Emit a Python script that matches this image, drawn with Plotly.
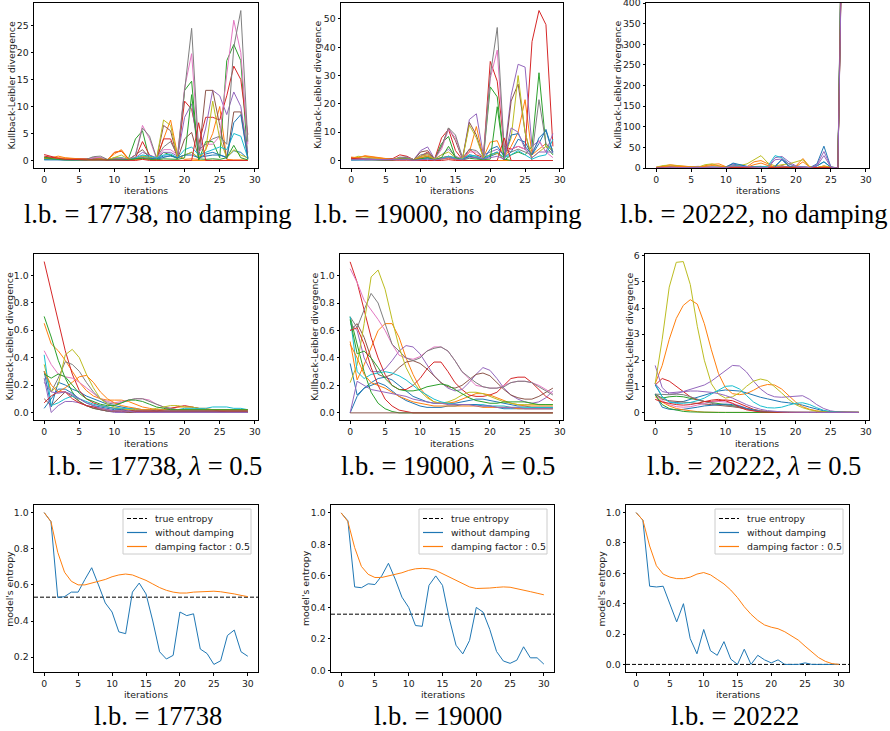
import plotly.graph_objects as go
from plotly.subplots import make_subplots

# ---------------- DATA ----------------
iters_kl = list(range(30))
iters_ent = list(range(31))
tick_x = [0, 5, 10, 15, 20, 25, 30]

tab10 = ["#1f77b4", "#ff7f0e", "#2ca02c", "#d62728", "#9467bd",
         "#8c564b", "#e377c2", "#7f7f7f", "#bcbd22", "#17becf"]

kl_17738_nodamp = [
    [0.3,0.2,0.2,0.1,0.1,0.1,0.1,0.2,0.3,0.1, 0.3,0.5,0.2,0.3,0.8,0.6,0.2,0.5,0.9,0.5, 1.0,1.5,0.4,1.2,1.5,1.0,0.6,1.8,1.5,0.3],
    [0.5,0.5,0.8,0.5,0.4,0.3,0.2,0.3,0.3,0.1, 1.2,2.0,0.3,0.2,0.5,0.3,0.1,4.0,7.5,1.0, 0.2,0.3,0.2,2.0,5.0,10.0,0.2,0.1,0.1,0.1],
    [0.6,0.4,0.3,0.2,0.2,0.1,0.2,0.5,0.5,0.1, 0.5,0.4,0.3,4.0,5.5,0.2,0.1,1.5,1.0,0.3, 13.0,14.7,0.0,3.5,3.5,0.5,18.5,21.5,18.5,0.2],
    [1.1,0.7,0.4,0.3,0.3,0.2,0.2,0.3,0.4,0.1, 1.5,1.7,0.3,0.5,3.5,1.0,0.3,4.0,4.0,0.5, 11.0,9.5,3.0,8.0,8.0,7.5,12.0,17.5,15.0,4.8],
    [0.2,0.2,0.2,0.1,0.1,0.1,0.1,0.4,0.5,0.1, 0.3,0.3,0.2,0.5,1.5,1.0,0.5,1.5,1.5,0.8, 8.0,10.5,1.0,6.0,13.0,12.0,8.5,12.7,10.0,1.5],
    [0.3,0.3,0.2,0.2,0.1,0.1,0.1,0.2,0.3,0.1, 0.2,0.3,0.1,1.0,2.0,0.5,0.2,6.5,5.5,0.3, 4.0,5.2,0.5,13.0,13.0,6.5,0.3,9.0,9.0,0.5],
    [0.4,0.3,0.3,0.2,0.2,0.1,0.1,0.5,0.6,0.1, 0.3,0.4,0.2,1.0,6.5,4.0,0.3,2.0,2.0,1.0, 13.5,19.8,1.5,3.0,3.0,4.5,16.0,26.0,20.0,3.0],
    [0.2,0.2,0.2,0.2,0.1,0.1,0.2,0.7,0.8,0.2, 0.3,0.3,0.2,1.0,6.0,4.5,0.5,2.5,3.5,1.0, 13.0,24.5,2.0,3.0,4.0,4.5,3.0,21.0,27.8,3.5],
    [0.3,0.3,0.4,0.3,0.2,0.1,0.1,0.2,0.3,0.1, 0.5,1.0,0.2,0.3,0.8,0.5,0.3,7.5,6.5,0.5, 1.0,1.5,0.5,2.0,11.0,4.0,0.5,2.0,1.0,0.5],
    [0.2,0.2,0.1,0.1,0.1,0.1,0.1,0.2,0.2,0.1, 0.2,0.2,0.1,0.5,1.0,0.8,0.5,1.0,1.2,0.5, 2.0,2.5,1.0,1.5,2.0,2.5,2.0,5.0,4.5,0.5],
    [0.1,0.1,0.1,0.1,0.1,0.1,0.1,0.1,0.1,0.1, 0.1,0.2,0.1,0.3,0.5,0.4,0.3,0.8,0.8,0.5, 1.0,1.0,0.5,0.8,1.0,1.0,0.5,7.0,8.5,0.3],
    [0.4,0.3,0.5,0.4,0.3,0.2,0.1,0.1,0.2,0.1, 1.5,1.8,0.2,0.1,0.3,0.2,0.0,0.0,0.0,0.0, 0.0,0.0,0.0,0.0,0.0,0.0,0.0,0.0,0.0,0.0],
    [0.5,0.3,0.2,0.1,0.1,0.1,0.1,0.2,0.2,0.1, 0.2,0.2,0.1,0.3,0.4,0.2,0.1,0.3,0.3,0.2, 0.5,12.2,0.3,0.2,0.3,0.2,0.5,2.8,0.5,0.1],
    [0.8,0.6,0.3,0.2,0.2,0.1,0.1,0.1,0.1,0.0, 0.0,0.1,0.0,0.0,0.2,0.0,0.0,0.0,0.0,0.0, 0.0,0.0,7.0,0.0,0.0,0.0,0.0,0.0,0.0,0.0],
]

kl_19000_nodamp = [
    [0.3,0.3,0.5,0.4,0.3,0.2,0.2,0.4,0.5,0.2, 0.5,1.0,0.3,0.8,1.5,1.0,0.5,2.0,1.5,0.5, 1.5,2.5,1.0,3.0,7.5,6.5,2.0,6.0,11.0,3.0],
    [0.8,1.0,1.7,1.3,1.0,0.7,0.5,0.6,0.8,0.3, 1.5,2.5,0.5,1.0,1.5,0.5,0.2,3.0,12.0,1.0, 6.5,7.0,1.0,5.0,10.0,21.5,2.0,4.0,6.0,3.0],
    [0.5,0.5,0.6,0.4,0.3,0.2,0.3,1.0,1.2,0.3, 1.0,1.5,0.5,6.0,8.5,1.0,0.2,1.5,1.0,0.3, 26.0,22.5,0.0,2.0,3.0,2.0,5.0,31.0,5.0,2.0],
    [1.0,0.8,0.6,0.5,0.6,0.5,0.7,2.0,1.5,0.3, 1.5,3.0,0.5,8.0,11.0,3.5,0.3,4.0,2.0,1.0, 35.0,28.0,5.0,4.0,5.0,4.0,42.0,53.0,48.0,5.0],
    [0.5,0.6,0.5,0.4,0.3,0.3,0.4,1.0,1.2,0.3, 3.5,4.8,0.5,2.0,4.0,1.5,0.5,14.5,16.5,2.0, 3.0,4.0,2.0,23.0,34.0,33.0,5.0,7.0,3.0,9.5],
    [0.3,0.4,0.5,0.4,0.3,0.2,0.3,0.8,1.0,0.2, 3.0,3.5,0.5,5.0,11.5,7.0,0.5,13.5,9.0,1.0, 2.0,3.0,0.0,21.0,27.0,10.0,0.0,0.0,0.0,0.0],
    [0.5,0.5,0.6,0.5,0.4,0.3,0.3,1.0,1.0,0.3, 1.5,2.0,0.5,4.0,11.0,8.0,1.0,3.0,3.0,1.0, 29.0,39.0,3.0,4.0,5.0,4.0,3.0,7.0,3.0,1.0],
    [0.4,0.5,0.6,0.5,0.4,0.3,0.3,1.2,1.0,0.3, 2.0,2.5,0.5,5.0,11.5,9.0,1.0,4.0,3.5,1.0, 30.0,47.0,4.0,3.0,4.0,3.0,2.0,21.5,6.0,3.0],
    [0.6,1.5,1.2,0.9,0.6,0.5,0.4,0.8,0.6,0.3, 1.5,2.0,0.5,2.0,3.0,1.0,0.5,12.5,8.0,1.0, 2.0,2.5,1.0,8.0,30.0,10.0,1.0,3.0,5.0,4.0],
    [0.2,0.3,0.4,0.3,0.2,0.2,0.2,0.5,0.5,0.2, 0.5,0.8,0.3,1.0,1.5,0.8,0.5,2.0,1.5,0.5, 2.0,3.0,1.0,2.0,3.5,2.0,0.5,1.5,2.0,7.5],
    [0.2,0.2,0.3,0.2,0.2,0.1,0.1,0.3,0.3,0.1, 0.3,0.5,0.2,0.5,1.0,0.5,0.3,1.5,1.0,0.3, 4.0,5.0,1.5,9.0,9.5,5.0,2.0,8.0,10.5,2.5],
    [1.2,1.0,1.5,1.2,0.8,0.5,0.3,0.5,0.5,0.2, 1.0,1.5,0.3,0.5,0.8,0.3,0.0,0.0,0.0,0.0, 0.0,0.0,0.0,0.0,0.0,0.0,0.0,0.0,0.0,0.0],
    [0.4,0.4,0.3,0.3,0.2,0.2,0.2,0.5,0.5,0.2, 0.5,1.0,0.3,1.0,5.0,1.0,0.2,0.8,0.5,0.3, 0.5,19.0,0.5,0.0,0.0,0.0,0.0,0.0,0.0,0.0],
    [0.8,0.5,0.3,0.3,0.2,0.1,0.1,0.1,0.1,0.0, 0.0,0.0,0.0,0.0,0.3,0.0,0.0,0.0,0.0,0.0, 0.0,0.0,8.0,0.0,0.0,0.0,0.0,0.0,0.0,0.0],
    [0.3,0.3,0.3,0.2,0.2,0.2,0.2,0.4,0.4,0.1, 0.3,0.5,0.2,0.5,1.0,0.5,0.3,1.0,1.0,0.5, 1.0,1.5,0.5,11.5,10.0,4.0,1.0,3.0,3.0,3.0],
]

kl_20222_nodamp = [
    [0,2,3,2,2,1,1,1,2,2, 3,10,5,2,1,2,1,5,20,3, 2,3,1,10,53,2,0,1150,2500,3000],
    [1,4,8,6,4,3,2,5,9,10, 3,2,2,3,15,18,10,1,2,1, 5,23,2,1,5,1,0,1100,2600,3000],
    [0,1,2,2,1,1,1,2,2,1, 1,2,2,3,3,4,2,1,3,2, 1,2,1,1,2,1,0,1080,2400,2800],
    [2,3,2,2,1,1,1,2,2,1, 1,4,3,1,1,2,1,1,5,2, 1,2,1,1,1,1,0,1050,2300,2900],
    [1,2,3,2,2,3,4,3,2,1, 2,8,6,3,2,2,1,25,28,15, 5,3,1,8,40,3,0,1020,2200,2700],
    [0,1,1,1,1,1,1,1,1,1, 1,2,2,1,1,1,1,3,5,1, 1,2,1,1,3,1,0,1000,2100,2600],
    [1,1,2,2,1,1,1,2,2,1, 1,3,2,2,1,2,1,3,2,1, 1,2,1,1,3,1,0,1060,2400,2800],
    [1,2,2,1,1,2,2,2,2,1, 1,4,3,2,2,3,2,2,2,1, 1,1,1,2,2,1,0,1120,2500,2900],
    [2,6,7,5,4,3,2,8,10,5, 3,5,6,10,20,30,12,5,8,10, 15,20,3,1,5,2,0,1090,2500,3000],
    [0,1,1,1,1,1,1,1,1,1, 1,5,8,3,2,2,5,30,25,10, 3,2,1,5,15,2,0,1060,2300,2800],
    [0,1,1,1,1,1,1,1,1,1, 2,12,8,4,2,1,1,2,22,5, 1,1,1,5,15,2,0,1030,2400,2800],
    [1,3,5,4,3,2,2,4,6,5, 2,2,2,2,8,12,6,1,1,1, 3,15,2,1,3,1,0,1000,2300,2700],
    [0,1,1,1,1,1,1,1,1,1, 1,2,1,1,1,1,1,1,2,1, 1,1,1,1,2,1,0,980,2200,2600],
    [1,1,1,1,1,1,1,1,1,1, 1,2,1,1,1,1,1,1,2,1, 1,1,1,1,1,1,0,970,2200,2600],
    [0,1,1,1,1,2,2,2,1,1, 1,5,4,2,1,1,1,20,22,10, 3,2,1,5,30,2,0,950,2100,2500],
]

kl_17738_damp = [
    [0.3,0.04,0.22,0.2,0.17,0.15,0.12,0.1,0.08,0.06, 0.05,0.04,0.03,0.02,0.02,0.02,0.01,0.01,0.01,0.01, 0.01,0.01,0.01,0.01,0.01,0.01,0.01,0.01,0.01,0.01],
    [0.65,0.5,0.45,0.38,0.3,0.22,0.16,0.12,0.1,0.09, 0.09,0.09,0.08,0.06,0.04,0.03,0.02,0.02,0.03,0.04, 0.04,0.04,0.03,0.03,0.02,0.02,0.02,0.02,0.02,0.02],
    [0.7,0.55,0.38,0.25,0.15,0.08,0.05,0.03,0.02,0.01, 0.01,0.0,0.0,0.0,0.0,0.0,0.0,0.0,0.0,0.0, 0.0,0.0,0.0,0.0,0.0,0.0,0.0,0.0,0.0,0.0],
    [1.1,0.88,0.66,0.45,0.28,0.16,0.1,0.07,0.05,0.04, 0.03,0.02,0.02,0.01,0.01,0.01,0.01,0.02,0.03,0.04, 0.05,0.04,0.03,0.02,0.02,0.01,0.01,0.01,0.01,0.01],
    [0.25,0.0,0.05,0.08,0.08,0.07,0.05,0.04,0.02,0.01, 0.0,0.0,0.0,0.0,0.0,0.0,0.0,0.0,0.0,0.0, 0.0,0.0,0.0,0.0,0.0,0.0,0.0,0.0,0.0,0.0],
    [0.1,0.05,0.1,0.15,0.12,0.08,0.05,0.03,0.02,0.01, 0.01,0.01,0.0,0.0,0.0,0.0,0.0,0.0,0.0,0.0, 0.0,0.0,0.0,0.0,0.0,0.0,0.0,0.0,0.0,0.0],
    [0.45,0.35,0.28,0.26,0.25,0.22,0.18,0.14,0.1,0.08, 0.07,0.08,0.09,0.1,0.1,0.09,0.06,0.04,0.03,0.02, 0.02,0.02,0.02,0.02,0.02,0.02,0.02,0.02,0.02,0.02],
    [0.3,0.15,0.25,0.37,0.35,0.3,0.22,0.15,0.1,0.07, 0.06,0.07,0.09,0.1,0.1,0.08,0.06,0.04,0.03,0.02, 0.02,0.02,0.02,0.02,0.02,0.02,0.02,0.02,0.02,0.02],
    [0.35,0.15,0.2,0.42,0.46,0.4,0.28,0.18,0.1,0.06, 0.04,0.03,0.02,0.02,0.02,0.02,0.03,0.04,0.05,0.05, 0.04,0.04,0.03,0.02,0.02,0.02,0.01,0.01,0.01,0.01],
    [0.42,0.05,0.07,0.1,0.12,0.1,0.08,0.06,0.05,0.04, 0.03,0.03,0.03,0.03,0.02,0.02,0.02,0.02,0.02,0.02, 0.03,0.03,0.03,0.03,0.04,0.04,0.04,0.03,0.03,0.02],
    [0.03,0.1,0.17,0.17,0.14,0.1,0.07,0.05,0.04,0.03, 0.02,0.02,0.01,0.01,0.01,0.01,0.01,0.01,0.01,0.01, 0.01,0.01,0.01,0.01,0.01,0.01,0.01,0.01,0.01,0.01],
    [0.3,0.2,0.15,0.18,0.22,0.26,0.27,0.22,0.15,0.1, 0.07,0.05,0.04,0.03,0.02,0.02,0.02,0.02,0.02,0.02, 0.02,0.02,0.02,0.02,0.02,0.02,0.02,0.02,0.02,0.02],
    [0.28,0.25,0.28,0.26,0.2,0.14,0.1,0.08,0.06,0.05, 0.05,0.07,0.09,0.09,0.08,0.06,0.04,0.03,0.02,0.02, 0.02,0.02,0.02,0.02,0.02,0.02,0.02,0.02,0.02,0.02],
    [0.07,0.12,0.15,0.15,0.1,0.07,0.05,0.04,0.03,0.02, 0.01,0.01,0.01,0.01,0.01,0.01,0.01,0.01,0.01,0.01, 0.01,0.01,0.01,0.01,0.01,0.01,0.01,0.01,0.01,0.01],
    [0.22,0.15,0.14,0.15,0.13,0.1,0.07,0.05,0.03,0.02, 0.01,0.01,0.01,0.0,0.0,0.0,0.0,0.0,0.0,0.0, 0.0,0.0,0.0,0.0,0.0,0.0,0.0,0.0,0.0,0.0],
]

kl_19000_damp = [
    [0.36,0.13,0.18,0.22,0.25,0.26,0.24,0.2,0.16,0.12, 0.1,0.08,0.07,0.07,0.07,0.07,0.08,0.09,0.1,0.1, 0.09,0.08,0.07,0.06,0.05,0.05,0.04,0.04,0.04,0.04],
    [0.52,0.24,0.35,0.48,0.6,0.65,0.65,0.55,0.4,0.28, 0.18,0.12,0.08,0.07,0.07,0.08,0.1,0.12,0.14,0.14, 0.13,0.11,0.09,0.07,0.06,0.05,0.05,0.05,0.05,0.05],
    [0.7,0.5,0.3,0.15,0.07,0.03,0.01,0.0,0.0,0.0, 0.0,0.0,0.0,0.0,0.0,0.0,0.0,0.0,0.0,0.0, 0.0,0.0,0.0,0.0,0.0,0.0,0.0,0.0,0.0,0.0],
    [1.1,0.95,0.75,0.55,0.4,0.28,0.2,0.17,0.17,0.2, 0.25,0.32,0.37,0.37,0.3,0.22,0.17,0.13,0.12,0.12, 0.13,0.15,0.2,0.25,0.26,0.26,0.22,0.17,0.12,0.09],
    [0.65,0.6,0.4,0.3,0.3,0.32,0.38,0.45,0.49,0.48, 0.43,0.35,0.27,0.22,0.18,0.16,0.17,0.22,0.28,0.33, 0.31,0.25,0.18,0.13,0.1,0.08,0.07,0.08,0.11,0.16],
    [0.6,0.65,0.55,0.4,0.28,0.26,0.28,0.33,0.37,0.38, 0.36,0.32,0.27,0.22,0.19,0.18,0.2,0.24,0.28,0.29, 0.27,0.22,0.17,0.13,0.11,0.1,0.1,0.12,0.15,0.18],
    [1.05,0.95,0.82,0.75,0.68,0.6,0.5,0.42,0.4,0.39, 0.41,0.45,0.48,0.48,0.45,0.38,0.3,0.25,0.2,0.19, 0.18,0.18,0.2,0.22,0.23,0.23,0.22,0.2,0.17,0.14],
    [0.7,0.62,0.75,0.87,0.8,0.65,0.5,0.45,0.4,0.38, 0.4,0.45,0.47,0.48,0.45,0.38,0.3,0.26,0.22,0.19, 0.18,0.18,0.19,0.22,0.23,0.23,0.22,0.19,0.16,0.13],
    [0.22,0.35,0.65,0.99,1.04,0.9,0.68,0.48,0.33,0.23, 0.16,0.11,0.08,0.07,0.08,0.1,0.13,0.15,0.15,0.14, 0.12,0.1,0.08,0.07,0.06,0.06,0.06,0.06,0.06,0.06],
    [0.7,0.3,0.25,0.28,0.29,0.3,0.29,0.27,0.24,0.2, 0.16,0.13,0.1,0.08,0.07,0.06,0.06,0.06,0.06,0.06, 0.05,0.05,0.05,0.04,0.04,0.04,0.04,0.04,0.04,0.04],
    [0.0,0.12,0.18,0.2,0.22,0.2,0.16,0.12,0.09,0.07, 0.05,0.04,0.04,0.04,0.05,0.05,0.06,0.06,0.06,0.05, 0.05,0.04,0.03,0.03,0.03,0.03,0.03,0.03,0.03,0.03],
    [0.5,0.4,0.28,0.22,0.2,0.18,0.15,0.12,0.1,0.08, 0.07,0.06,0.05,0.05,0.05,0.05,0.05,0.05,0.05,0.04, 0.04,0.04,0.04,0.04,0.03,0.03,0.03,0.03,0.03,0.03],
    [0.68,0.43,0.45,0.4,0.33,0.25,0.2,0.17,0.16,0.16, 0.17,0.19,0.2,0.21,0.2,0.17,0.14,0.11,0.09,0.08, 0.07,0.07,0.08,0.08,0.08,0.08,0.07,0.06,0.06,0.06],
    [0.6,0.62,0.5,0.33,0.2,0.1,0.05,0.02,0.01,0.0, 0.0,0.0,0.0,0.0,0.0,0.0,0.0,0.0,0.0,0.0, 0.0,0.0,0.0,0.0,0.0,0.0,0.0,0.0,0.0,0.0],
    [0.0,0.23,0.2,0.17,0.16,0.15,0.14,0.13,0.12,0.1, 0.09,0.08,0.07,0.07,0.06,0.06,0.06,0.06,0.05,0.05, 0.05,0.04,0.04,0.04,0.04,0.03,0.03,0.03,0.03,0.03],
    [0.0,0.0,0.0,0.0,0.0,0.0,0.0,0.0,0.0,0.0, 0.0,0.0,0.0,0.0,0.0,0.0,0.0,0.0,0.0,0.0, 0.0,0.0,0.0,0.0,0.0,0.0,0.0,0.0,0.0,0.0],
]

kl_20222_damp = [
    [1.05,0.6,0.4,0.38,0.42,0.5,0.58,0.67,0.75,0.82, 0.86,0.85,0.82,0.75,0.65,0.58,0.52,0.45,0.4,0.37, 0.33,0.28,0.2,0.12,0.06,0.02,0.01,0.0,0.0,0.0],
    [1.1,1.8,2.8,3.6,4.1,4.32,4.15,3.4,2.4,1.5, 0.95,0.72,0.68,0.72,0.85,1.0,1.07,1.05,0.9,0.65, 0.4,0.22,0.12,0.06,0.02,0.01,0.0,0.0,0.0,0.0],
    [0.7,0.55,0.6,0.62,0.6,0.55,0.48,0.42,0.38,0.35, 0.32,0.28,0.22,0.15,0.08,0.04,0.02,0.01,0.0,0.0, 0.0,0.0,0.0,0.0,0.0,0.0,0.0,0.0,0.0,0.0],
    [1.05,1.3,1.2,1.0,0.8,0.6,0.48,0.42,0.42,0.45, 0.48,0.45,0.35,0.22,0.12,0.06,0.03,0.01,0.0,0.0, 0.0,0.0,0.0,0.0,0.0,0.0,0.0,0.0,0.0,0.0],
    [1.8,0.95,0.7,0.72,0.8,0.88,0.95,1.05,1.2,1.4, 1.6,1.8,1.78,1.55,1.2,0.9,0.7,0.6,0.58,0.6, 0.64,0.64,0.5,0.3,0.15,0.06,0.02,0.01,0.0,0.0],
    [0.7,0.5,0.45,0.42,0.4,0.38,0.35,0.32,0.3,0.28, 0.26,0.22,0.18,0.12,0.07,0.03,0.01,0.0,0.0,0.0, 0.0,0.0,0.0,0.0,0.0,0.0,0.0,0.0,0.0,0.0],
    [0.7,0.45,0.3,0.22,0.2,0.22,0.28,0.35,0.4,0.42, 0.4,0.35,0.25,0.15,0.08,0.03,0.01,0.0,0.0,0.0, 0.0,0.0,0.0,0.0,0.0,0.0,0.0,0.0,0.0,0.0],
    [0.7,0.68,0.68,0.7,0.68,0.6,0.5,0.42,0.35,0.3, 0.28,0.25,0.2,0.15,0.1,0.06,0.03,0.01,0.0,0.0, 0.0,0.0,0.0,0.0,0.0,0.0,0.0,0.0,0.0,0.0],
    [1.1,2.8,4.8,5.75,5.78,4.9,3.3,2.0,1.1,0.7, 0.55,0.6,0.75,1.0,1.2,1.28,1.22,1.0,0.75,0.5, 0.3,0.18,0.1,0.05,0.02,0.01,0.0,0.0,0.0,0.0],
    [1.1,0.6,0.4,0.35,0.35,0.38,0.45,0.55,0.7,0.85, 1.0,1.02,0.9,0.65,0.4,0.25,0.18,0.17,0.2,0.28, 0.35,0.37,0.3,0.18,0.08,0.03,0.01,0.0,0.0,0.0],
    [0.7,0.2,0.12,0.1,0.12,0.15,0.2,0.25,0.28,0.3, 0.32,0.3,0.25,0.15,0.08,0.03,0.01,0.0,0.0,0.0, 0.0,0.0,0.0,0.0,0.0,0.0,0.0,0.0,0.0,0.0],
    [0.6,0.4,0.25,0.15,0.1,0.06,0.03,0.01,0.0,0.0, 0.0,0.0,0.0,0.0,0.0,0.0,0.0,0.0,0.0,0.0, 0.0,0.0,0.0,0.0,0.0,0.0,0.0,0.0,0.0,0.0],
    [0.68,0.3,0.15,0.08,0.04,0.02,0.01,0.0,0.0,0.0, 0.0,0.0,0.0,0.0,0.0,0.0,0.0,0.0,0.0,0.0, 0.0,0.0,0.0,0.0,0.0,0.0,0.0,0.0,0.0,0.0],
    [0.5,0.4,0.35,0.3,0.28,0.3,0.35,0.42,0.47,0.5, 0.45,0.35,0.2,0.1,0.05,0.02,0.01,0.0,0.0,0.0, 0.0,0.0,0.0,0.0,0.0,0.0,0.0,0.0,0.0,0.0],
    [1.1,0.8,0.75,0.78,0.8,0.82,0.82,0.8,0.77,0.72, 0.65,0.55,0.42,0.3,0.2,0.12,0.07,0.04,0.02,0.01, 0.0,0.0,0.0,0.0,0.0,0.0,0.0,0.0,0.0,0.0],
]

true_entropy = [0.532, 0.357, 0.0]
entropy_no_damping = [
    [1.0,0.95,0.53,0.535,0.56,0.56,0.63,0.695,0.6,0.5, 0.45,0.34,0.33,0.56,0.61,0.55,0.4,0.23,0.19,0.21, 0.45,0.43,0.44,0.245,0.22,0.16,0.18,0.32,0.35,0.23,0.205],
    [1.0,0.95,0.53,0.525,0.55,0.545,0.6,0.68,0.58,0.465, 0.4,0.285,0.28,0.54,0.6,0.54,0.33,0.16,0.105,0.19, 0.4,0.37,0.26,0.12,0.06,0.045,0.065,0.15,0.08,0.08,0.04],
    [1.0,0.95,0.515,0.51,0.515,0.4,0.28,0.4,0.17,0.07, 0.23,0.09,0.06,0.15,0.035,0.0,0.1,0.0,0.06,0.03, 0.01,0.03,0.0,0.0,0.0,0.01,0.0,0.0,0.0,0.0,0.0],
]
entropy_damping = [
    [1.0,0.95,0.78,0.67,0.62,0.6,0.6,0.61,0.62,0.63, 0.645,0.655,0.66,0.655,0.64,0.625,0.605,0.585,0.57,0.56, 0.555,0.555,0.56,0.562,0.565,0.565,0.562,0.557,0.55,0.542,0.535],
    [1.0,0.945,0.78,0.66,0.61,0.59,0.59,0.6,0.61,0.62, 0.635,0.645,0.648,0.645,0.635,0.615,0.595,0.57,0.55,0.53, 0.52,0.52,0.523,0.527,0.53,0.528,0.52,0.51,0.5,0.49,0.48],
    [1.0,0.95,0.78,0.65,0.595,0.575,0.565,0.565,0.575,0.595, 0.605,0.59,0.56,0.53,0.49,0.44,0.38,0.33,0.29,0.26, 0.245,0.235,0.215,0.19,0.16,0.12,0.08,0.045,0.02,0.005,0.0],
]

lower_bounds = ["17738", "19000", "20222"]
titles_row1 = [f"l.b. = {lb}, no damping" for lb in lower_bounds]
titles_row2 = [f"l.b. = {lb}, <i>λ</i> = 0.5" for lb in lower_bounds]
titles_row3 = [f"l.b. = {lb}" for lb in lower_bounds]
legend_names = ["true entropy", "without damping", "damping factor : 0.5"]

# ---------------- FIGURE ----------------
W, H = 890, 731
fig = make_subplots(rows=3, cols=3)

def px_x(v):
    return v / W

def px_y(v):
    return 1 - v / H

# axes boxes in pixels (left, right, top, bottom)
boxes = [
    (34, 258, 3, 168), (341, 563, 3, 168), (646, 869, 3, 168),
    (34, 258, 254, 420), (340, 563, 254, 420), (645, 869, 254, 420),
    (34, 258, 505, 672), (331, 554, 505, 672), (626, 849, 505, 672),
]
y_ranges = [
    [-1.4, 29.2], [-2.65, 55.65], [0, 400.4],
    [-0.055, 1.155], [-0.052, 1.157], [-0.29, 6.07],
    [0.118, 1.042], [-0.01, 1.05], [-0.05, 1.05],
]
y_dticks = [5, 10, 50, 0.2, 0.2, 1, 0.2, 0.2, 0.2]
y_formats = ["d", "d", "d", ".1f", ".1f", "d", ".1f", ".1f", ".1f"]

kl_sets = [kl_17738_nodamp, kl_19000_nodamp, kl_20222_nodamp,
           kl_17738_damp, kl_19000_damp, kl_20222_damp]

for k, series in enumerate(kl_sets):
    r, c = k // 3 + 1, k % 3 + 1
    for i, ys in enumerate(series):
        assert len(ys) == len(iters_kl)
        fig.add_trace(go.Scatter(x=iters_kl, y=ys, mode="lines",
                                 line=dict(color=tab10[i % 10], width=1),
                                 showlegend=False, hoverinfo="skip"),
                      row=r, col=c)

for j in range(3):
    r, c = 3, j + 1
    xr = [-1.5, 31.5]
    fig.add_trace(go.Scatter(x=xr, y=[true_entropy[j]] * 2, mode="lines",
                             line=dict(color="black", width=1, dash="4px,2px"),
                             name=legend_names[0], showlegend=False,
                             hoverinfo="skip"), row=r, col=c)
    fig.add_trace(go.Scatter(x=iters_ent, y=entropy_no_damping[j], mode="lines",
                             line=dict(color=tab10[0], width=1),
                             name=legend_names[1], showlegend=False,
                             hoverinfo="skip"), row=r, col=c)
    fig.add_trace(go.Scatter(x=iters_ent, y=entropy_damping[j], mode="lines",
                             line=dict(color=tab10[1], width=1),
                             name=legend_names[2], showlegend=False,
                             hoverinfo="skip"), row=r, col=c)

FS = 9.3
tick_font = dict(family="DejaVu Sans", size=FS, color="#222")
for k in range(9):
    l, rgt, t, b = boxes[k]
    suffix = "" if k == 0 else str(k + 1)
    xr = [-1.45, 30.45] if k < 6 else [-1.5, 31.5]
    fig.layout["xaxis" + suffix].update(
        domain=[px_x(l), px_x(rgt)], range=xr, tickvals=tick_x, automargin=False,
        showline=True, mirror=True, linecolor="black", linewidth=1,
        ticks="outside", ticklen=2.5, tickwidth=1, tickcolor="black",
        ticklabeloverflow="allow",
        showgrid=False, zeroline=False, tickfont=tick_font)
    fig.layout["yaxis" + suffix].update(
        domain=[px_y(b), px_y(t)], range=y_ranges[k], dtick=y_dticks[k], automargin=False,
        tick0=0, tickformat=y_formats[k],
        showline=True, mirror=True, linecolor="black", linewidth=1,
        ticks="outside", ticklen=2.5, tickwidth=1, tickcolor="black",
        ticklabeloverflow="allow",
        showgrid=False, zeroline=False, tickfont=tick_font)

annotations = []
shapes = []
label_font = dict(family="DejaVu Sans", size=FS, color="#222")
title_font = dict(family="Liberation Serif", size=26.5, color="black")

xlabel_y = [190, 443, 694]
ylabel_x = [11, 317.5, 617.5, 8.5, 314, 629, 9.2, 305.5, 601]
ylabel_txt = ["Kullback-Leibler divergence"] * 6 + ["model's entropy"] * 3
for k in range(9):
    l, rgt, t, b = boxes[k]
    annotations.append(dict(text="iterations", x=px_x((l + rgt) / 2), y=px_y(xlabel_y[k // 3]),
                            xref="paper", yref="paper", showarrow=False,
                            xanchor="center", yanchor="middle", font=label_font))
    annotations.append(dict(text=ylabel_txt[k], x=px_x(ylabel_x[k]), y=px_y((t + b) / 2),
                            xref="paper", yref="paper", showarrow=False, textangle=-90,
                            xanchor="center", yanchor="middle", font=label_font))

title_centers = [[157, 447, 753], [155, 448, 754], [158, 438, 735]]
title_y = [214, 466, 716]
for row, texts in enumerate([titles_row1, titles_row2, titles_row3]):
    for j, txt in enumerate(texts):
        annotations.append(dict(text=txt, x=px_x(title_centers[row][j]), y=px_y(title_y[row]),
                                xref="paper", yref="paper", showarrow=False,
                                xanchor="center", yanchor="middle", font=title_font))

# legends drawn as boxes (one per bottom panel)
legend_left = [123, 419, 715]
legend_top = 509
legend_w, legend_h = 128, 45
row_offsets = [9.5, 23.5, 37.5]
handle_styles = [dict(color="black", width=1, dash="4px,2px"),
                 dict(color=tab10[0], width=1.2),
                 dict(color=tab10[1], width=1.2)]
for j in range(3):
    bx = legend_left[j]
    shapes.append(dict(type="rect", xref="paper", yref="paper", layer="above",
                       x0=px_x(bx), x1=px_x(bx + legend_w),
                       y0=px_y(legend_top + legend_h), y1=px_y(legend_top),
                       line=dict(color="#cccccc", width=1),
                       fillcolor="rgba(255,255,255,0.8)"))
    for i in range(3):
        yy = legend_top + row_offsets[i]
        shapes.append(dict(type="line", xref="paper", yref="paper", layer="above",
                           x0=px_x(bx + 4), x1=px_x(bx + 24), y0=px_y(yy), y1=px_y(yy),
                           line=handle_styles[i]))
        annotations.append(dict(text=legend_names[i], x=px_x(bx + 30), y=px_y(yy),
                                xref="paper", yref="paper", showarrow=False,
                                xanchor="left", yanchor="middle", font=label_font))

fig.update_layout(
    width=W, height=H, margin=dict(l=0, r=0, t=0, b=0),
    paper_bgcolor="white", plot_bgcolor="white",
    annotations=annotations, shapes=shapes, showlegend=False,
)

fig.write_html("out.html", config={"displayModeBar": False},
               post_script="document.body.style.margin='0';document.body.style.overflow='hidden';")
